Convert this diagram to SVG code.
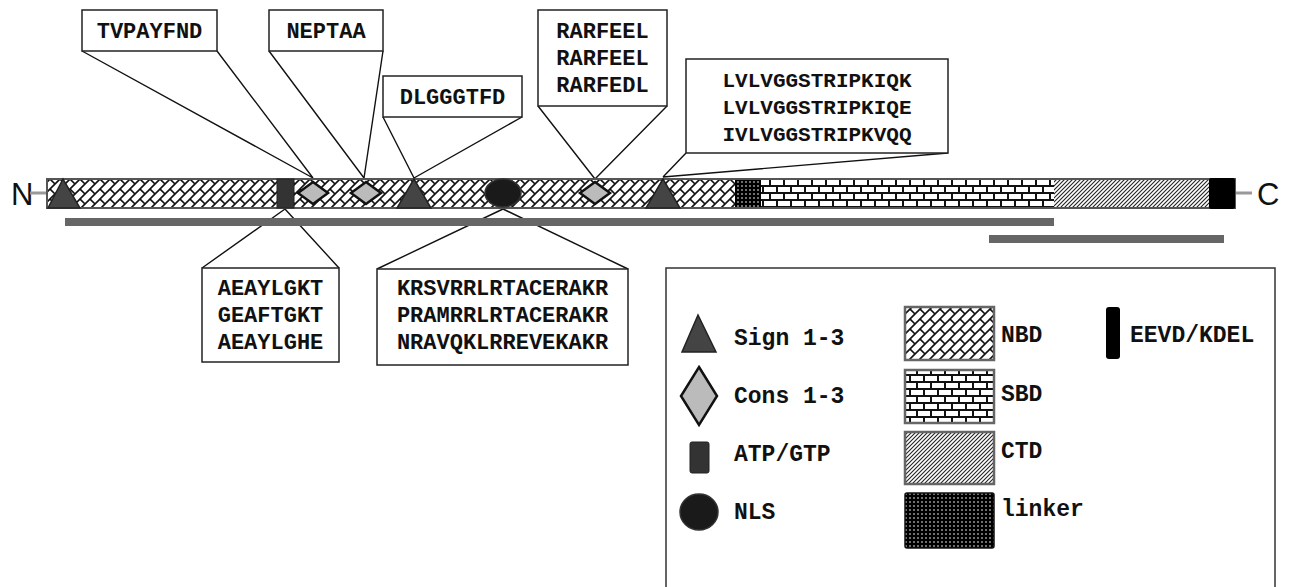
<svg xmlns="http://www.w3.org/2000/svg" width="1290" height="587" viewBox="0 0 1290 587">
<defs>
<pattern id="pNBD" patternUnits="userSpaceOnUse" x="0" y="179" width="10" height="10">
<rect width="10" height="10" fill="#fff"/>
<path d="M-1,11 L11,-1 M-2,2 L2,-2 M8,12 L12,8 M0,0 L5,5" stroke="#111" stroke-width="1.6" fill="none"/>
</pattern>
<pattern id="pSBD" patternUnits="userSpaceOnUse" x="0" y="179" width="14" height="14">
<rect width="14" height="14" fill="#111"/>
<rect x="1" y="1" width="12" height="5" fill="#fff"/>
<rect x="8" y="8" width="12" height="5" fill="#fff"/>
<rect x="-6" y="8" width="12" height="5" fill="#fff"/>
</pattern>
<pattern id="pCTD" patternUnits="userSpaceOnUse" width="4" height="4">
<rect width="4" height="4" fill="#fff"/>
<path d="M0,4 L4,0 M-1,1 L1,-1 M3,5 L5,3" stroke="#222" stroke-width="1.1"/>
</pattern>
<pattern id="pLNK" patternUnits="userSpaceOnUse" width="4" height="4">
<rect width="4" height="4" fill="#000"/>
<circle cx="2" cy="2" r="0.8" fill="#fff"/>
</pattern>
<style>
.seq{font-family:"Liberation Mono","Courier New",monospace;font-weight:bold;font-size:22px;fill:#111;text-anchor:middle}
.lvl{font-size:21px}
.leg{font-family:"Liberation Mono","Courier New",monospace;font-weight:bold;font-size:23px;fill:#111}
.box{fill:#fff;stroke:#222;stroke-width:1.5}
.con{stroke:#111;stroke-width:1.4;fill:none}
.tri{fill:#444;stroke:#222;stroke-width:1.5}
.dia{fill:#bbb;stroke:#111;stroke-width:2.5}
.atp{fill:#333;stroke:#222;stroke-width:1}
.nls{fill:#1a1a1a;stroke:#333;stroke-width:1.5}
.sw{stroke:#666;stroke-width:2.5}
.gbar{fill:#666}
.term{font-family:"Liberation Sans",Arial,sans-serif;font-size:31px;fill:#111}
</style>
</defs>
<rect width="1290" height="587" fill="#fff"/>

<g id="connectors">
<path class="con" d="M82,51 L313,178 M217,51 L313,178"/>
<path class="con" d="M269,51 L364,178 M383,51 L364,178"/>
<path class="con" d="M383,117 L414,178 M522,117 L414,178"/>
<path class="con" d="M538,106 L595,179 M667,106 L595,179"/>
<path class="con" d="M686,153 L663,177 M948,153 L663,177"/>
<path class="con" d="M202,268 L285,209 M339,268 L285,209"/>
<path class="con" d="M377,269 L503,209 M628,269 L503,209"/>
</g>

<g id="protein-bar">
<text class="term" x="11" y="205">N</text>
<line x1="30" y1="193" x2="47" y2="193" stroke="#999" stroke-width="3"/>
<line x1="1235" y1="193" x2="1252" y2="193" stroke="#999" stroke-width="3"/>
<text class="term" x="1257" y="205">C</text>
<rect id="NBD" x="47" y="179" width="688" height="29" fill="url(#pNBD)"/>
<rect id="linker" x="735" y="179" width="26" height="29" fill="url(#pLNK)"/>
<rect id="SBD" x="761" y="179" width="293" height="29" fill="url(#pSBD)"/>
<rect id="CTD" x="1054" y="179" width="155" height="29" fill="url(#pCTD)"/>
<rect x="47" y="179" width="1188" height="29" fill="none" stroke="#555" stroke-width="2"/>
<rect id="EEVD" x="1209" y="178" width="26" height="31" rx="2" fill="#000"/>
</g>

<g id="motifs">
<polygon class="tri" points="63,179 48,208 80,208"/>
<rect class="atp" x="277" y="179" width="17" height="29"/>
<polygon class="dia" points="313,182 328,193 313,204 298,193"/>
<polygon class="dia" points="366,182 381,193 366,204 351,193"/>
<polygon class="tri" points="414,179 397,208 431,208"/>
<ellipse class="nls" cx="503" cy="193" rx="18" ry="14"/>
<polygon class="dia" points="595,182 610,193 595,204 580,193"/>
<polygon class="tri" points="663,179 646,208 680,208"/>
</g>

<g id="coverage-bars">
<rect class="gbar" x="65" y="218" width="989" height="8"/>
<rect class="gbar" x="989" y="235" width="235" height="8"/>
</g>

<g id="callout-TVPAYFND">
<rect class="box" x="82" y="10" width="135" height="41"/>
<text class="seq" x="149.5" y="38">TVPAYFND</text>
</g>
<g id="callout-NEPTAA">
<rect class="box" x="269" y="10" width="114" height="41"/>
<text class="seq" x="326" y="38">NEPTAA</text>
</g>
<g id="callout-DLGGGTFD">
<rect class="box" x="383" y="76" width="139" height="41"/>
<text class="seq" x="452.5" y="104">DLGGGTFD</text>
</g>
<g id="callout-RARFEEL">
<rect class="box" x="538" y="10" width="129" height="96"/>
<text class="seq" x="602.5" y="38">RARFEEL</text>
<text class="seq" x="602.5" y="65">RARFEEL</text>
<text class="seq" x="602.5" y="92">RARFEDL</text>
</g>
<g id="callout-LVLV">
<rect class="box" x="686" y="59" width="262" height="94"/>
<text class="seq lvl" x="817" y="87">LVLVGGSTRIPKIQK</text>
<text class="seq lvl" x="817" y="114">LVLVGGSTRIPKIQE</text>
<text class="seq lvl" x="817" y="141">IVLVGGSTRIPKVQQ</text>
</g>
<g id="callout-AEAYLGKT">
<rect class="box" x="202" y="268" width="137" height="94"/>
<text class="seq" x="270.5" y="295">AEAYLGKT</text>
<text class="seq" x="270.5" y="322">GEAFTGKT</text>
<text class="seq" x="270.5" y="349">AEAYLGHE</text>
</g>
<g id="callout-KRSV">
<rect class="box" x="377" y="269" width="251" height="96"/>
<text class="seq" x="502.5" y="295">KRSVRRLRTACERAKR</text>
<text class="seq" x="502.5" y="322">PRAMRRLRTACERAKR</text>
<text class="seq" x="502.5" y="349">NRAVQKLRREVEKAKR</text>
</g>

<g id="legend">
<rect x="666" y="268" width="609" height="340" fill="#fff" stroke="#333" stroke-width="1.5"/>
<g id="leg-sign">
<polygon class="tri" points="698,315 682,352 716,352"/>
<text class="leg" x="734" y="345">Sign 1-3</text>
</g>
<g id="leg-cons">
<polygon class="dia" points="699,367 717,396 699,425 681,396"/>
<text class="leg" x="734" y="403">Cons 1-3</text>
</g>
<g id="leg-atp">
<rect class="atp" x="690" y="442" width="19" height="31" rx="2"/>
<text class="leg" x="734" y="461">ATP/GTP</text>
</g>
<g id="leg-nls">
<ellipse class="nls" cx="699" cy="512" rx="19" ry="18"/>
<text class="leg" x="734" y="519">NLS</text>
</g>
<g id="leg-nbd">
<rect class="sw" x="905" y="307" width="89" height="53" fill="url(#pNBD)"/>
<text class="leg" x="1001" y="342">NBD</text>
</g>
<g id="leg-sbd">
<rect class="sw" x="905" y="370" width="89" height="53" fill="url(#pSBD)"/>
<text class="leg" x="1001" y="401">SBD</text>
</g>
<g id="leg-ctd">
<rect class="sw" x="905" y="432" width="89" height="52" fill="url(#pCTD)"/>
<text class="leg" x="1001" y="458">CTD</text>
</g>
<g id="leg-linker">
<rect x="905" y="493" width="89" height="55" rx="2" fill="url(#pLNK)" stroke="#111" stroke-width="1.5"/>
<text class="leg" x="1001" y="516">linker</text>
</g>
<g id="leg-eevd">
<rect x="1106" y="307" width="14" height="52" rx="3" fill="#000"/>
<text class="leg" x="1130" y="342">EEVD/KDEL</text>
</g>
</g>
</svg>
